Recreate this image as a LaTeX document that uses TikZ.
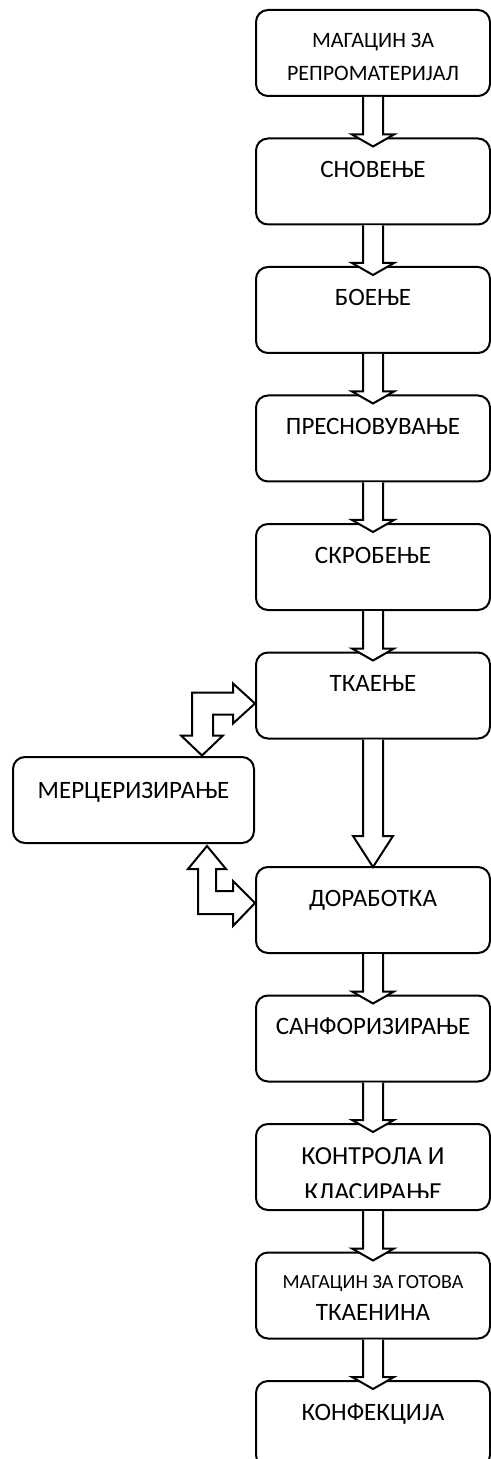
\documentclass[tikz,border=0pt]{standalone}
\usepackage{fontspec}
\setmainfont{Carlito}
\usetikzlibrary{calc, positioning}

\tikzset{
  stage/.style={draw, line width=1pt, rounded corners=6pt, anchor=north west,
    inner sep=0pt, outer sep=0pt, minimum width=117pt, minimum height=43pt},
  stagetxt/.style={anchor=base, inner sep=0pt, font=\fontsize{12.5}{14}\selectfont},
  pipe/.style={draw, line width=1pt, fill=white, line join=miter},
}
% block arrow from the bottom of one stage into the top of the next
\newcommand{\pipeto}[2]{%
  \draw[pipe] ($(#1.south)+(-10,1)$) -- ($(#2.north)+(-10,-4)$) -- ++(-11,0)
    -- ($(#2.north)+(0,8)$) -- ($(#2.north)+(21,-4)$) -- ++(-11,0)
    -- ($(#1.south)+(10,1)$);}

\begin{document}
\begin{tikzpicture}[x=0.5pt, y=-0.5pt, node distance=21.25pt]
\clip (0,0) rectangle (491,1459);

% main column
\node[stage] (store) at (256,10) {};
\node[stage, below=of store] (warp) {};
\node[stage, below=of warp] (dye) {};
\node[stage, below=of dye] (rewarp) {};
\node[stage, below=of rewarp] (starch) {};
\node[stage, below=of starch] (weave) {};
\node[stage, below=64.25pt of weave] (finish) {};
\node[stage, below=of finish] (sanfor) {};
\node[stage, below=of sanfor] (check) {};
\node[stage, below=of check] (goods) {};
\node[stage, below=of goods] (garment) {};

% side stage
\node[stage, minimum width=120.5pt] (merc) at (13,757) {};

% labels
\node[stagetxt, font=\fontsize{11}{13}\selectfont] (storeA) at ($(store.north)+(0,38)$) {МАГАЦИН ЗА};
\node[stagetxt, font=\fontsize{11}{13}\selectfont] (storeB) at ($(store.north)+(0,71)$) {РЕПРОМАТЕРИЈАЛ};
\node[stagetxt] (warpT) at ($(warp.north)+(0,39)$) {СНОВЕЊЕ};
\node[stagetxt] (dyeT) at ($(dye.north)+(0,39)$) {БОЕЊЕ};
\node[stagetxt] (rewarpT) at ($(rewarp.north)+(0,39)$) {ПРЕСНОВУВАЊЕ};
\node[stagetxt] (starchT) at ($(starch.north)+(0,39)$) {СКРОБЕЊЕ};
\node[stagetxt] (weaveT) at ($(weave.north)+(0,39)$) {ТКАЕЊЕ};
\node[stagetxt] (mercT) at ($(merc.north)+(0,41)$) {МЕРЦЕРИЗИРАЊЕ};
\node[stagetxt] (finishT) at ($(finish.north)+(0,39)$) {ДОРАБОТКА};
\node[stagetxt] (sanforT) at ($(sanfor.north)+(0,39)$) {САНФОРИЗИРАЊЕ};
\node[stagetxt, font=\fontsize{13}{15}\selectfont] (checkA) at ($(check.north)+(0,40)$) {КОНТРОЛА И};
\begin{scope}
  \clip (check.north west) rectangle ($(check.north east)+(0,73)$);
  \node[stagetxt, font=\fontsize{13}{15}\selectfont] (checkB) at ($(check.north)+(0,76)$) {КЛАСИРАЊЕ};
\end{scope}
\node[stagetxt, font=\fontsize{10}{12}\selectfont] (goodsA) at ($(goods.north)+(0,36)$) {МАГАЦИН ЗА ГОТОВА};
\node[stagetxt] (goodsB) at ($(goods.north)+(0,68)$) {ТКАЕНИНА};
\node[stagetxt] (garmentT) at ($(garment.north)+(0,39)$) {КОНФЕКЦИЈА};

% arrows down the column
\pipeto{store}{warp}
\pipeto{warp}{dye}
\pipeto{dye}{rewarp}
\pipeto{rewarp}{starch}
\pipeto{starch}{weave}
\pipeto{finish}{sanfor}
\pipeto{sanfor}{check}
\pipeto{check}{goods}
\pipeto{goods}{garment}

% long arrow past the mercerizing loop
\draw[pipe] ($(weave.south)+(-10,1)$) -- ($(finish.north)+(-10,-31)$) -- ++(-10,0)
  -- (finish.north) -- ($(finish.north)+(20,-31)$) -- ++(-10,0)
  -- ($(weave.south)+(10,1)$);

% bent arrows to and from mercerizing
\draw[pipe] ($(weave.west)+(-1,8)$) -- ++(-22,-20) -- ++(0,9) -- ++(-41,0)
  -- ++(0,43) -- ++(-11,0) -- ++(21,20) -- ++(21,-20) -- ++(-10,0)
  -- ++(0,-21) -- ++(20,0) -- ++(0,9) -- cycle;
\draw[pipe] ($(finish.west)+(-1,-7)$) -- ++(-22,23) -- ++(0,-12) -- ++(-35,0)
  -- ++(0,-45) -- ++(-10,0) -- ++(19,-23) -- ++(19,23) -- ++(-10,0)
  -- ++(0,22) -- ++(17,0) -- ++(0,-10) -- cycle;
\end{tikzpicture}
\end{document}
